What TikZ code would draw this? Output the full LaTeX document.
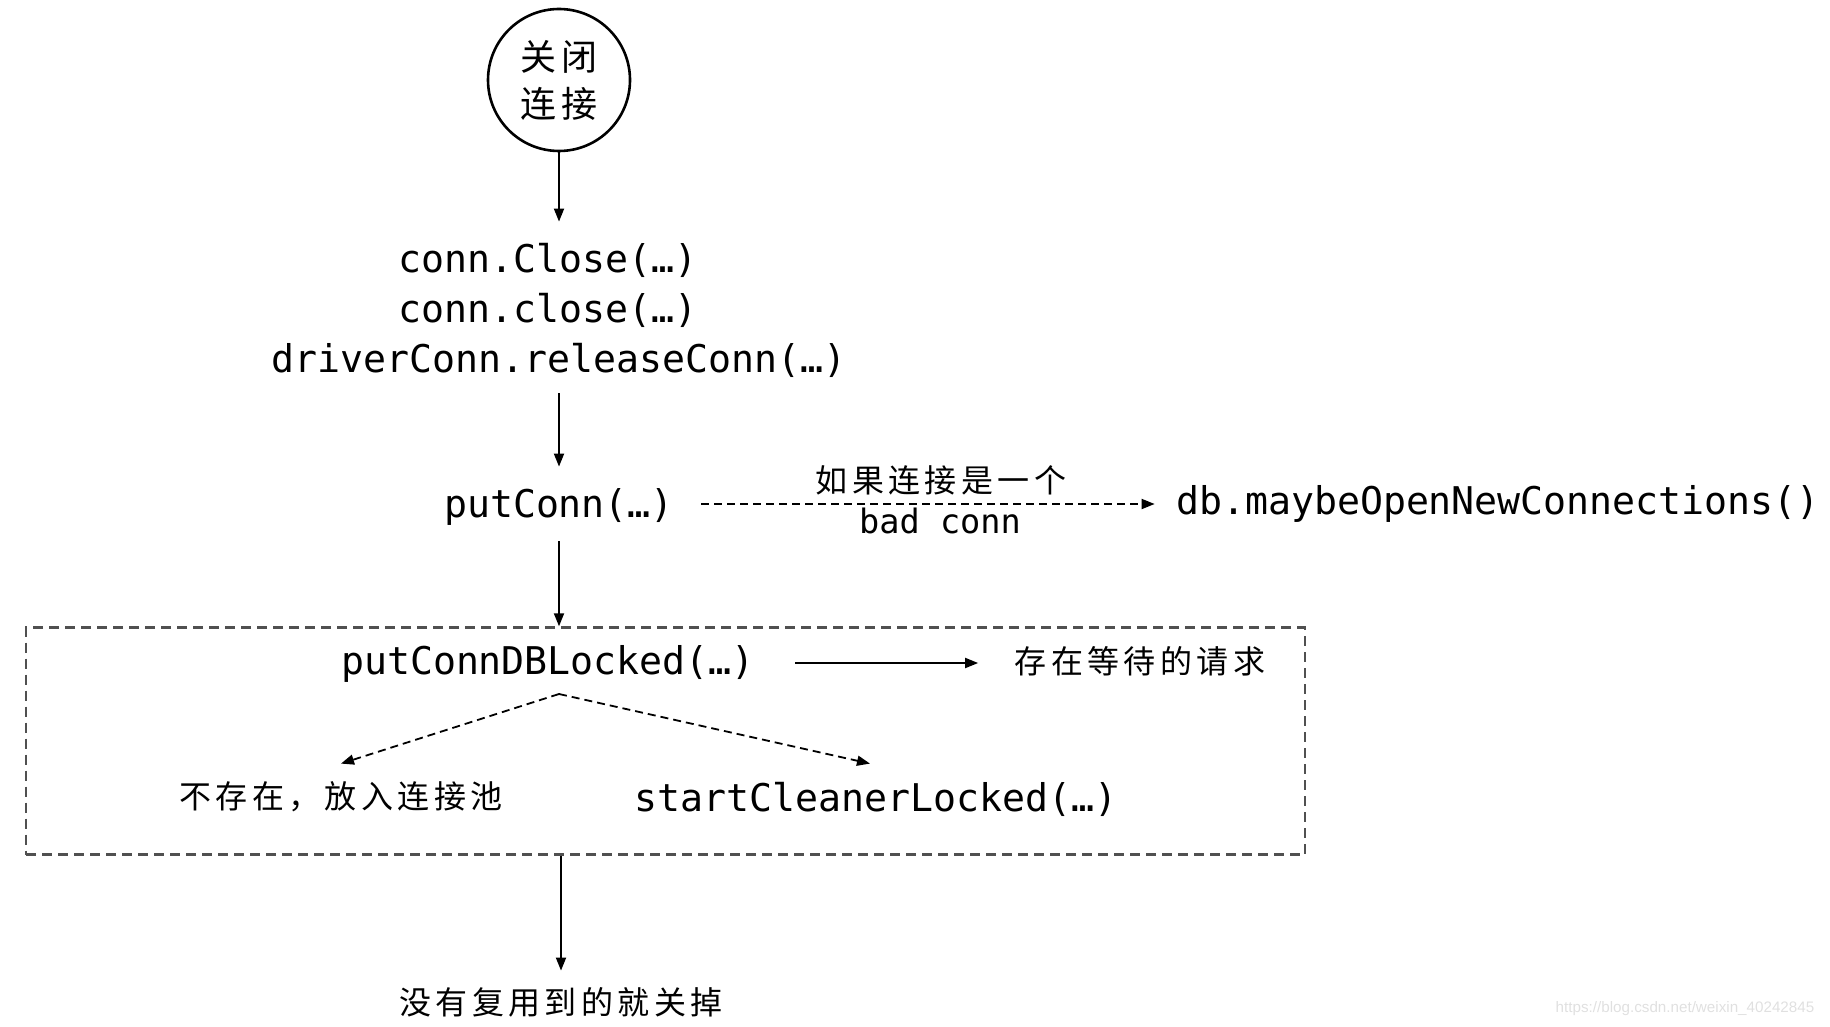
\documentclass[tikz,border=0pt]{standalone}
\usepackage{fontspec}
\usetikzlibrary{arrows.meta}
\newfontfamily\codefont{DejaVu Sans Mono}
\newfontfamily\cjk{Noto Sans CJK SC}[LetterSpace=14]
\newfontfamily\wmfont{Liberation Sans}
\definecolor{boxgray}{RGB}{80,80,80}
\begin{document}
\begin{tikzpicture}[x=0.5pt,y=-0.5pt,
  code/.style={font=\codefont\fontsize{19.1}{23}\selectfont, inner sep=0pt, text height=14pt, text depth=4pt},
  smallcode/.style={font=\codefont\fontsize{16.8}{20}\selectfont, inner sep=0pt, text height=12pt, text depth=3.5pt},
  cjktxt/.style={font=\cjk\fontsize{16}{20}\selectfont, inner sep=0pt, text height=13pt, text depth=3pt},
  arr/.style={-{Triangle[length=6.5pt,width=5pt]}, line width=0.9pt},
  dasharr/.style={arr, dash pattern=on 4pt off 2.5pt},
]
\useasboundingbox (0,0) rectangle (1830,1027);

% start circle
\node[circle, draw, line width=1.3pt, minimum size=71pt, inner sep=0pt,
      font=\cjk\fontsize{18}{23.5}\selectfont, align=center] (start) at (559,80) {关闭\\连接};

% call chain
\node[code] (c1) at (548,262) {conn.Close(…)};
\node[code] (c2) at (548,312) {conn.close(…)};
\node[code] (c3) at (559,362) {driverConn.releaseConn(…)};

\node[code] (put) at (559,507) {putConn(…)};
\node[code] (db) at (1498,504) {db.maybeOpenNewConnections()};
\node[cjktxt] (lbl1) at (941,482) {如果连接是一个};
\node[smallcode] (lbl2) at (940,525) {bad conn};

% group box
\node[draw=boxgray, line width=1.2pt, dash pattern=on 5pt off 3pt,
      minimum width=639.5pt, minimum height=113.5pt, inner sep=0pt] (grp) at (665.5,741) {};

\node[code] (pdb) at (548,664) {putConnDBLocked(…)};
\node[cjktxt] (wait) at (1140,663) {存在等待的请求};
\coordinate (split) at (559,694);
\node[cjktxt] (pool) at (341,798) {不存在，放入连接池};
\node[code] (cleaner) at (876,801) {startCleanerLocked(…)};

\node[cjktxt] (last) at (561,1004) {没有复用到的就关掉};

\node[font=\wmfont\fontsize{7.6}{9}\selectfont, text=black!12, inner sep=0pt] (wm) at (1685,1009) {https://blog.csdn.net/weixin\_40242845};

% connectors
\draw[arr, shorten >=11pt] (start.south) -- (c1.north -| start.south);
\draw[arr, shorten <=6.5pt, shorten >=11pt] (c3.south) -- (put.north);
\draw[dasharr, shorten <=13.5pt, shorten >=10.5pt] ([yshift=1.5pt]put.east) -- ([yshift=0pt]db.west);
\draw[arr, shorten <=8pt] (put.south) -- (grp.north -| put.south);
\draw[arr, shorten <=20pt, shorten >=18pt] (pdb.east |- wait.west) -- (wait.west);
\draw[dasharr] (split) -- ([yshift=9pt]pool.north);
\draw[dasharr] (split) -- ([xshift=-3pt,yshift=9.5pt]cleaner.north);
\draw[arr, shorten >=8.5pt] (grp.south -| last.north) -- (last.north);
\end{tikzpicture}
\end{document}
